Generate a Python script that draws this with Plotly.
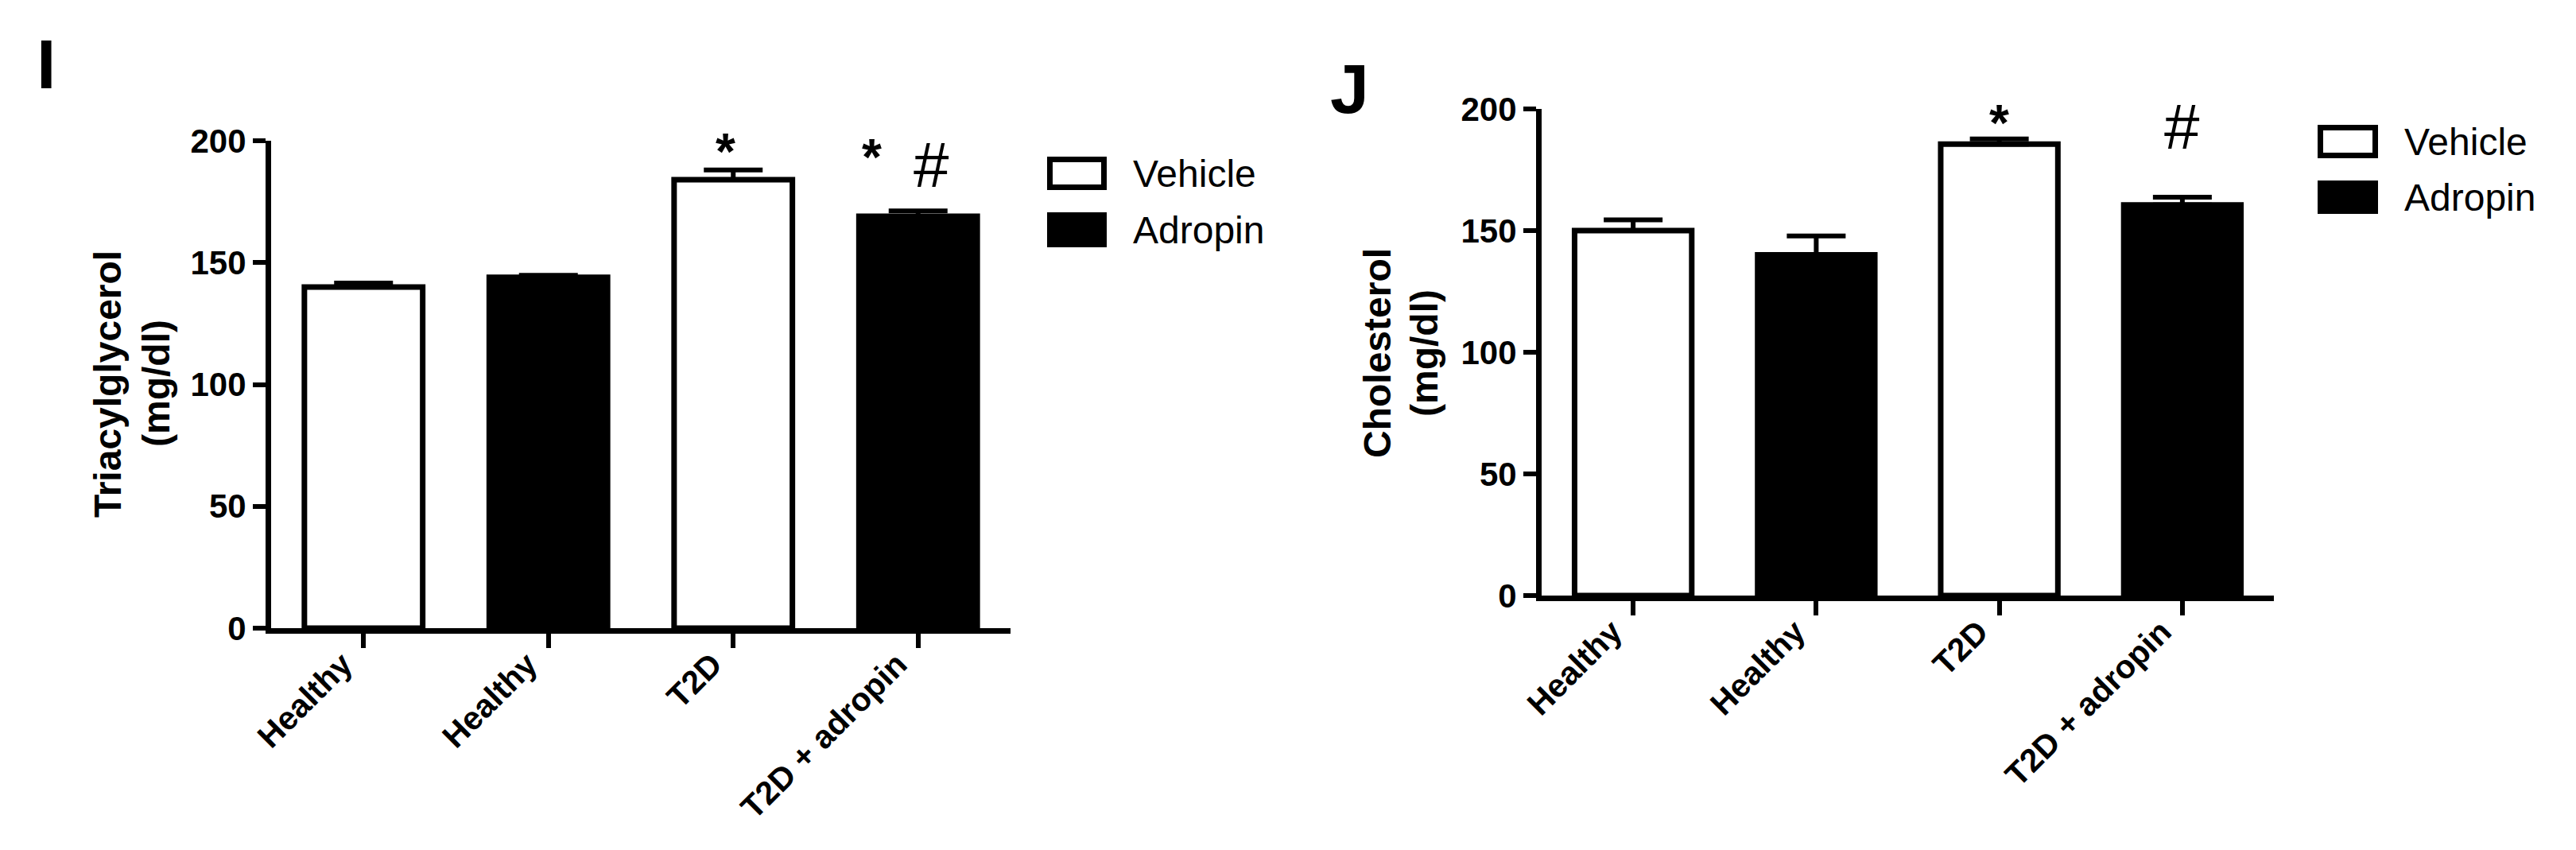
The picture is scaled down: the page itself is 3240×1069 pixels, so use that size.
import plotly.graph_objects as go

# ---------------- data ----------------
groups = ["Healthy", "Healthy", "T2D", "T2D + adropin"]
treatment = ["Vehicle", "Adropin", "Vehicle", "Adropin"]

tag_values = [140, 144, 184, 169]        # Triacylglycerol (mg/dl)
tag_sem = [1.6, 0.8, 4.0, 2.2]

chol_values = [150, 140, 185.5, 160.5]   # Cholesterol (mg/dl)
chol_sem = [4.4, 7.8, 2.2, 3.2]

y_ticks = [0, 50, 100, 150, 200]
legend_names = ["Vehicle", "Adropin"]
fill = {"Vehicle": "white", "Adropin": "black"}

FONT = "Arial, Liberation Sans, Helvetica, sans-serif"
W, H = 3240, 1069

fig = go.Figure()


def add_panel(values, sem, xa, ya):
    for name in legend_names:
        idx = [i for i, t in enumerate(treatment) if t == name]
        fig.add_trace(go.Bar(
            x=idx, y=[values[i] for i in idx],
            width=0.64,
            marker=dict(color=fill[name], line=dict(color="black", width=7)),
            error_y=dict(type="data", symmetric=False,
                         array=[sem[i] for i in idx],
                         arrayminus=[0 for _ in idx],
                         color="black", thickness=6, width=37),
            xaxis=xa, yaxis=ya, showlegend=False, cliponaxis=False,
            name=name,
        ))


add_panel(tag_values, tag_sem, "x", "y")
add_panel(chol_values, chol_sem, "x2", "y2")


def px2x(p):
    return p / W


def px2y(p):
    return 1 - p / H


xcommon = dict(range=[-0.5, 3.5], tickvals=[0, 1, 2, 3], ticktext=groups,
               tickangle=-45, ticks="outside", ticklen=18, tickwidth=6,
               tickcolor="black", showline=True, linewidth=7, linecolor="black",
               showgrid=False, zeroline=False, automargin=False,
               ticklabelstandoff=-20, ticklabelshift=-26,
               tickfont=dict(family=FONT, size=41, color="black", weight="bold"))
ycommon = dict(range=[0, 200], tickvals=y_ticks, ticks="outside", ticklen=16,
               tickwidth=6, tickcolor="black", showline=True, linewidth=7,
               linecolor="black", showgrid=False, zeroline=False, automargin=False,
               tickfont=dict(family=FONT, size=42, color="black", weight="bold"))

# panel I domains (pixels): x 341-1271, y 177-790
# panel J domains (pixels): x 1939-2860, y 137-749
fig.update_layout(
    xaxis=dict(domain=[px2x(341), px2x(1271)], anchor="y", **xcommon),
    yaxis=dict(domain=[px2y(790), px2y(177)], anchor="x", **ycommon),
    xaxis2=dict(domain=[px2x(1939), px2x(2860)], anchor="y2", **xcommon),
    yaxis2=dict(domain=[px2y(749), px2y(137)], anchor="x2", **ycommon),
)

ann = []


def paper_text(text, x, y, size, angle=0, anchor="center"):
    ann.append(dict(text=text, x=px2x(x), y=px2y(y), xref="paper", yref="paper",
                    showarrow=False, xanchor=anchor, yanchor="middle",
                    textangle=angle,
                    font=dict(family=FONT, size=size, color="black")))


# panel letters
paper_text("<b>I</b>", 58, 80, 88)
paper_text("<b>J</b>", 1697, 112, 88)
# y titles (two lines each)
paper_text("<b>Triacylglycerol</b>", 136, 483, 48, -90)
paper_text("<b>(mg/dl)</b>", 196, 482, 48, -90)
paper_text("<b>Cholesterol</b>", 1732, 444, 48, -90)
paper_text("<b>(mg/dl)</b>", 1791, 444, 48, -90)

# significance markers
sig = [
    ("x", "y", "<b>*</b>", 1.96, 195.5, 64),
    ("x", "y", "<b>*</b>", 2.75, 193, 64),
    ("x", "y", "#", 3.07, 190, 80),
    ("x2", "y2", "<b>*</b>", 2.0, 194, 64),
    ("x2", "y2", "#", 3.0, 192.5, 80),
]
for xr, yr, t, xv, yv, fs in sig:
    ann.append(dict(text=t, x=xv, y=yv, xref=xr, yref=yr, showarrow=False,
                    xanchor="center", yanchor="middle",
                    font=dict(family=FONT, size=fs, color="black")))

# legends (drawn as shapes + text)
shapes = []
legend_pos = [(1317, 1392, [(197, 239), (267, 311)]),
              (2915, 2991, [(157, 199), (227, 269)])]
for x0, x1, rows in legend_pos:
    for name, (y0, y1) in zip(legend_names, rows):
        shapes.append(dict(type="rect", xref="paper", yref="paper",
                           x0=px2x(x0 + 3.5), x1=px2x(x1 - 3.5),
                           y0=px2y(y1 - 3.5), y1=px2y(y0 + 3.5),
                           line=dict(color="black", width=7),
                           fillcolor=fill[name]))
        paper_text(name, x1 + 31, (y0 + y1) / 2, 48, 0, "left")

fig.update_layout(
    annotations=ann, shapes=shapes,
    width=W, height=H, margin=dict(l=0, r=0, t=0, b=0),
    paper_bgcolor="white", plot_bgcolor="white",
    barmode="overlay", showlegend=False, template="none",
    font=dict(family=FONT, color="black"),
)

fig.write_html("out.html", config={"displayModeBar": False},
               post_script="document.body.style.margin='0';"
                           "document.body.style.overflow='hidden';")
